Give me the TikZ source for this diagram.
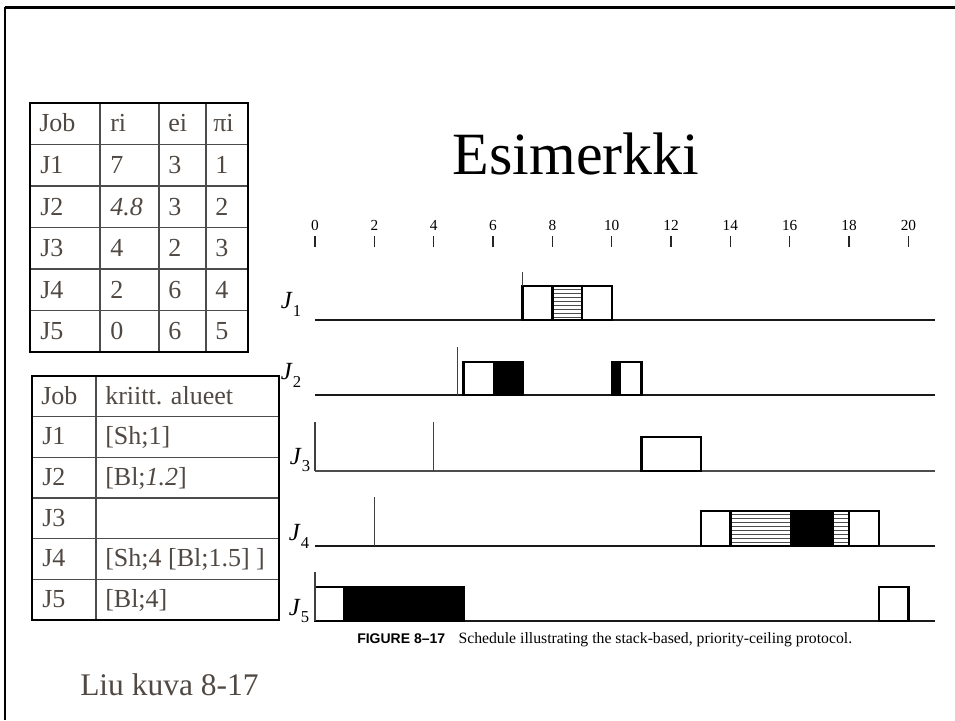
\documentclass[tikz,border=0pt]{standalone}
\usepackage{fontspec}
\setmainfont{Liberation Serif}
\newfontfamily\capsans{Liberation Sans}
\definecolor{slidetext}{RGB}{80,72,66}
\newcommand\jlbl[1]{\textit{J}\raisebox{-0.32em}{\fontsize{12.5}{12.5}\selectfont #1}}
% horizontal hatching of a critical section: t1, t2, top y
\newcommand\hatch[3]{%
  \foreach \k in {0,...,7}{\draw[hatchline] (#1,{#3+3+4*\k}) -- (#2,{#3+3+4*\k});}}
\begin{document}
\begin{tikzpicture}[x=0.75pt,y=-0.75pt,
  frame/.style={line width=1.9pt,black},
  outer/.style={line width=2.2pt,black},
  grid/.style={line width=0.8pt,black!70},
  cell/.style={anchor=base west,inner sep=0pt,text=slidetext,font=\fontsize{19.5}{19.5}\selectfont},
  ticklab/.style={anchor=base,inner sep=0pt,font=\fontsize{11.5}{11.5}\selectfont},
  tickmark/.style={line width=0.9pt,black!85},
  baseln/.style={line width=1.4pt,black!90},
  run/.style={line width=1.8pt,black},
  solid fill/.style={fill=black},
  hatchline/.style={line width=0.6pt,black!70},
  release/.style={line width=0.9pt,black!75},
  joblab/.style={inner sep=0pt,font=\fontsize{18.5}{18.5}\selectfont}]
\useasboundingbox (0,0) rectangle (955,720);

% slide frame (top and left edges)
\draw[frame] (5,7.5) -- (955,7.5);
\draw[frame] (5,7.5) -- (5,720);

% title
\node[anchor=base,inner sep=0pt,font=\fontsize{45}{45}\selectfont] (title) at (576,175) {Esimerkki};

% ---- job parameter table ----
\draw[grid] (100,103) -- (100,352) (159,103) -- (159,352) (206,103) -- (206,352);
\foreach \yy in {144.5,186,227.5,269,310.5}{\draw[grid] (30,\yy) -- (248,\yy);}
\draw[outer] (30,103) rectangle (248,352);
\node[cell] (h1) at (39,132) {Job};
\node[cell] (h2) at (110,132) {ri};
\node[cell] (h3) at (168,132) {ei};
\node[cell] (h4) at (213,132) {πi};
\foreach \r/\j/\rr/\e/\p [count=\n] in {1/J1/7/3/1,2/J2/\textit{4.8}/3/2,3/J3/4/2/3,4/J4/2/6/4,5/J5/0/6/5}{
  \pgfmathsetmacro\by{132+41.5*\n}
  \node[cell] (a\n) at (40,\by) {\j};
  \node[cell] (b\n) at (110,\by) {\rr};
  \node[cell] (c\n) at (168,\by) {\e};
  \node[cell] (d\n) at (215,\by) {\p};
}

% ---- critical section table ----
\draw[grid] (96,376) -- (96,620);
\foreach \yy in {416.7,457.3,498,538.7,579.3}{\draw[grid] (32,\yy) -- (279,\yy);}
\draw[outer] (32,376) rectangle (279,620);
\node[cell] (k0) at (41,404) {Job};
\node[cell] (l0) at (105,404) {kriitt. alueet};
\foreach \j/\cs [count=\n] in {J1/{[Sh;1]},J2/{[Bl;\textit{1.2}]},J3/{},J4/{[Sh;4 [Bl;1.5] ]},J5/{[Bl;4]}}{
  \pgfmathsetmacro\by{404+40.67*\n}
  \node[cell] (k\n) at (42,\by) {\j};
  \node[cell] (l\n) at (105,\by) {\cs};
}

\node[anchor=base west,inner sep=0pt,text=slidetext,font=\fontsize{23.6}{23.6}\selectfont] (src) at (80,695) {Liu kuva 8-17};

% ---- schedule ----
\node[joblab] (n1) at (291,304) {\jlbl{1}};
\node[joblab] (n2) at (291,375) {\jlbl{2}};
\node[joblab] (n3) at (300,460) {\jlbl{3}};
\node[joblab] (n4) at (299,536) {\jlbl{4}};
\node[joblab] (n5) at (299,611) {\jlbl{5}};

\begin{scope}[shift={(315,0)},x=22.2525pt]
  % time axis
  \foreach \t in {0,2,...,20}{
    \node[ticklab] (t\t) at (\t,230) {\t};
    \draw[tickmark] (\t,236) -- (\t,247);
  }
  % base lines
  \foreach \yy in {320,395,546,621}{\draw[baseln] (0,\yy) -- (20.9,\yy);}
  \draw[line width=0.9pt,black!70] (0,471) -- (20.9,471);

  % J1
  \hatch{8}{9}{286}
  \draw[run] (7,286) rectangle (10,320) (8,286) -- (8,320) (9,286) -- (9,320);
  \draw[release] (7,272) -- (7,286);

  % J2
  \fill[solid fill] (6,362) rectangle (7,395);
  \fill[solid fill] (10,362) rectangle (10.3,395);
  \draw[run] (5,362) rectangle (7,395);
  \draw[run] (10,362) rectangle (11,395);
  \draw[release] (4.8,347) -- (4.8,395);

  % J3
  \draw[run] (11,437) rectangle (13,471);
  \draw[release] (4,422) -- (4,471);
  \draw[release] (0,422) -- (0,471);

  % J4
  \hatch{14}{16}{511}
  \hatch{17.5}{18}{511}
  \fill[solid fill] (16,511) rectangle (17.5,546);
  \draw[run] (13,511) rectangle (19,546) (14,511) -- (14,546) (18,511) -- (18,546);
  \draw[release] (2,497) -- (2,546);

  % J5
  \fill[solid fill] (1,587) rectangle (5,621);
  \draw[run] (0,587) rectangle (5,621) (1,587) -- (1,621);
  \draw[run] (19,587) rectangle (20,621);
  \draw[release] (0,572) -- (0,621);
\end{scope}

\node[anchor=base west,inner sep=0pt,font=\fontsize{11.8}{11.8}\selectfont] (figcap) at (357,643)
  {{\capsans\bfseries\fontsize{10.5}{10.5}\selectfont FIGURE 8–17}\hspace{10pt}Schedule illustrating the stack-based, priority-ceiling protocol.};
\end{tikzpicture}
\end{document}
